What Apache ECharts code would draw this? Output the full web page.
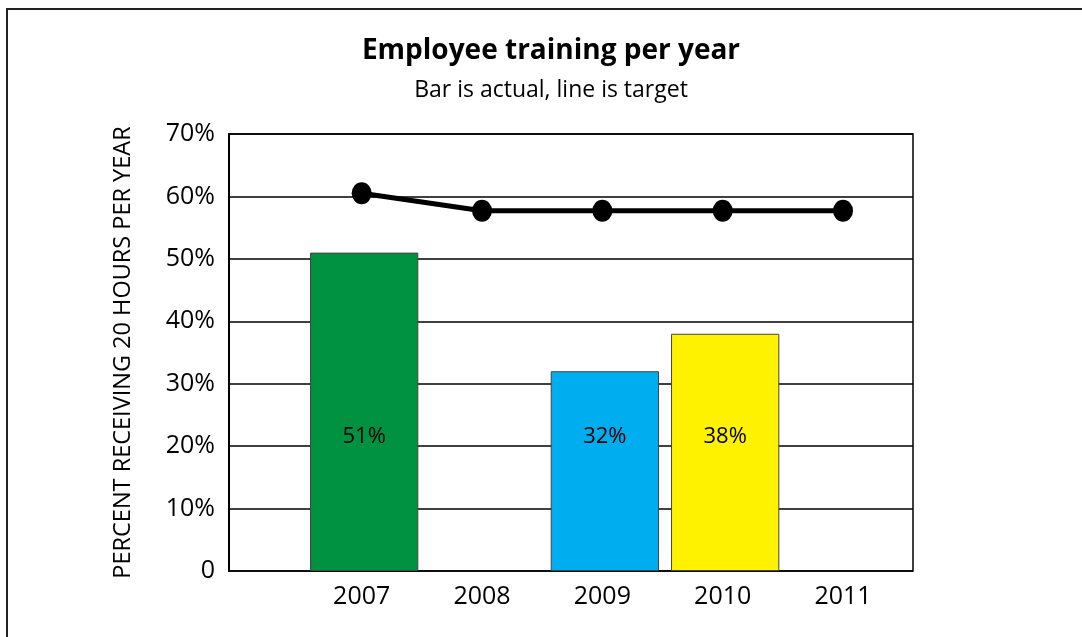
<!DOCTYPE html>
<html>
<head>
<meta charset="utf-8">
<script src="https://cdn.jsdelivr.net/npm/echarts@6/dist/echarts.min.js"></script>
<style>
  html, body { margin: 0; padding: 0; background: #fff; }
  #chart { width: 1082px; height: 637px; }
</style>
</head>
<body>
<div id="chart"></div>
<script>
// Years on the category axis
const years = ['2007', '2008', '2009', '2010', '2011'];
// Actual share of employees receiving 20 hours of training (null = no bar)
const actual = [51, null, 32, 38, null];
// Target share per year
const target = [60.5, 57.7, 57.7, 57.7, 57.7];
// Bar fill colours per year
const barColors = ['#009241', '#00aeef', '#00aeef', '#fff200', '#fff200'];
// Value axis settings
const yMin = 0, yMax = 70, yStep = 10;

const FONT = '"Open Sans", "Noto Sans", sans-serif';
const chart = echarts.init(document.getElementById('chart'), null, { renderer: 'canvas' });

const option = {
  backgroundColor: '#fff',
  animation: false,
  title: [
    {
      text: 'Employee training per year',
      left: 546, top: 32, textAlign: 'center',
      textStyle: { fontFamily: FONT, fontSize: 28, fontWeight: 'bold', color: '#000' }
    },
    {
      text: 'Bar is actual, line is target',
      left: 546, top: 74, textAlign: 'center',
      textStyle: { fontFamily: FONT, fontSize: 23, fontWeight: 'normal', color: '#000' }
    }
  ],
  graphic: [{
    type: 'rect',
    shape: { x: 7, y: 9, width: 1100, height: 660 },
    style: { fill: 'none', stroke: '#222', lineWidth: 2 },
    silent: true,
    z: 100
  }],
  grid: [
    // frame, gridlines and value axis
    { left: 229, top: 134, width: 684, height: 437, show: true, borderColor: '#000', borderWidth: 1.5, backgroundColor: 'transparent' },
    // target line and year labels
    { left: 301.5, top: 134, width: 601.7, height: 437 },
    // bars
    { left: 304, top: 134, width: 601.7, height: 437 }
  ],
  xAxis: [
    { gridIndex: 0, type: 'category', data: years, show: false },
    {
      gridIndex: 1, type: 'category', data: years,
      axisLine: { show: false }, axisTick: { show: false },
      axisLabel: { fontFamily: FONT, fontSize: 25, color: '#000', margin: 13 }
    },
    { gridIndex: 2, type: 'category', data: years, show: false }
  ],
  yAxis: [
    {
      gridIndex: 0, type: 'value', min: yMin, max: yMax, interval: yStep,
      name: 'PERCENT RECEIVING 20 HOURS PER YEAR',
      nameLocation: 'middle', nameGap: 94, nameRotate: 90,
      nameTextStyle: { fontFamily: FONT, fontSize: 23.5, color: '#000' },
      axisLine: { show: true, lineStyle: { color: '#000', width: 2 } },
      axisTick: { show: false },
      axisLabel: {
        fontFamily: FONT, fontSize: 25, color: '#000', margin: 14,
        formatter: v => (v === 0 ? '0' : v + '%')
      },
      splitLine: { show: true, lineStyle: { color: '#000', width: 1.5 } }
    },
    { gridIndex: 1, type: 'value', min: yMin, max: yMax, interval: yStep, show: false, splitLine: { show: false } },
    { gridIndex: 2, type: 'value', min: yMin, max: yMax, interval: yStep, show: false, splitLine: { show: false } }
  ],
  series: [
    {
      type: 'bar',
      xAxisIndex: 2, yAxisIndex: 2,
      barWidth: '90%',
      data: actual.map((v, i) => v == null ? null : {
        value: v,
        itemStyle: { color: barColors[i] }
      }),
      itemStyle: { borderColor: '#444', borderWidth: 1 },
      label: {
        show: true,
        position: 'insideBottom',
        distance: 123,
        fontFamily: FONT, fontSize: 22, color: '#000',
        formatter: p => p.value + '%'
      },
      z: 2
    },
    {
      type: 'line',
      xAxisIndex: 1, yAxisIndex: 1,
      data: target,
      symbol: 'circle',
      symbolSize: [20, 22],
      lineStyle: { color: '#000', width: 5 },
      itemStyle: { color: '#000' },
      z: 3
    }
  ]
};
chart.setOption(option);
</script>
</body>
</html>
